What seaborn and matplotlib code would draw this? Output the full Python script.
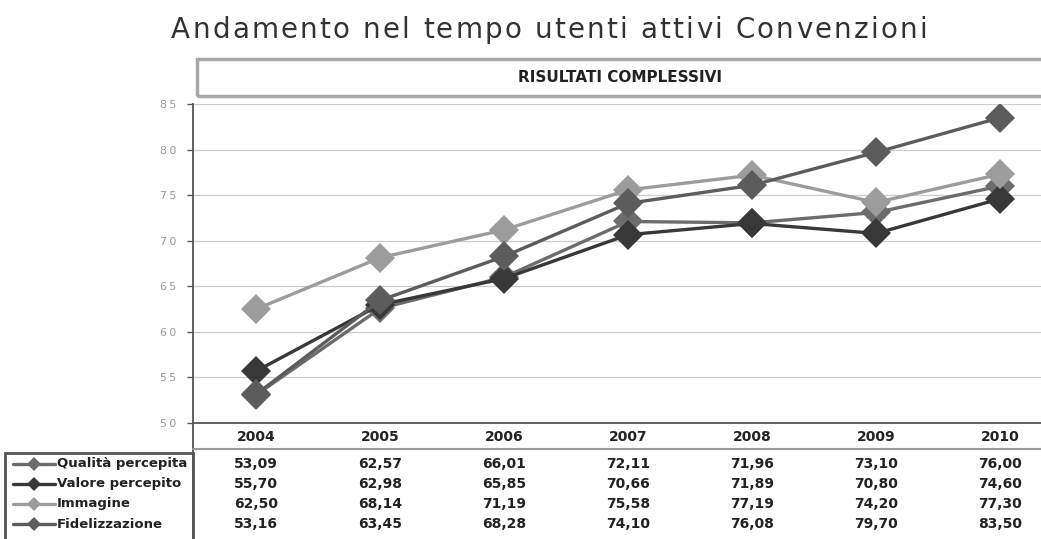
import matplotlib.pyplot as plt
import matplotlib.patches as mpatches
import matplotlib.lines as mlines
import matplotlib.transforms as mtransforms
from matplotlib.font_manager import FontProperties
import pandas as pd
import seaborn as sns

years = [2004, 2005, 2006, 2007, 2008, 2009, 2010]
series_names = ["Qualità percepita", "Valore percepito", "Immagine", "Fidelizzazione"]
qualita = [53.09, 62.57, 66.01, 72.11, 71.96, 73.10, 76.00]
valore = [55.70, 62.98, 65.85, 70.66, 71.89, 70.80, 74.60]
immagine = [62.50, 68.14, 71.19, 75.58, 77.19, 74.20, 77.30]
fidelizzazione = [53.16, 63.45, 68.28, 74.10, 76.08, 79.70, 83.50]
y_ticks = [50, 55, 60, 65, 70, 75, 80, 85]

colors = ["#6c6c6c", "#383838", "#9c9c9c", "#5c5c5c"]

df = pd.DataFrame({
    "anno": years * 4,
    "serie": [s for s in series_names for _ in years],
    "valore": qualita + valore + immagine + fidelizzazione,
})

sns.set_style("white")
plt.rcParams['font.family'] = ['DejaVu Sans']

fig = plt.figure(figsize=(10.41, 5.39), dpi=100, facecolor="w")
W, H = 1041, 539
renderer = fig.canvas.get_renderer()


def spaced_text(xc, y, s, gap, **kw):
    # text with extra letter spacing, centred on xc (pixels)
    prop = FontProperties(family="DejaVu Sans", size=kw.pop("fontsize"),
                          weight=kw.pop("fontweight", "normal"))
    widths = [renderer.get_text_width_height_descent(c, prop, ismath=False)[0] for c in s]
    total = sum(widths) + gap * (len(s) - 1)
    x = xc - total / 2
    for c, w in zip(s, widths):
        fig.text(x / W, 1 - y / H, c, fontproperties=prop, ha="left", va="baseline", **kw)
        x += w + gap


ax = fig.add_axes([193 / W, 1 - 423 / H, 1 - 193 / W, (423 - 104) / H])

sns.lineplot(data=df, x="anno", y="valore", hue="serie", style="serie",
             palette=dict(zip(series_names, colors)),
             markers={s: "D" for s in series_names}, dashes=False,
             markersize=15, linewidth=2.4, markeredgewidth=0,
             legend=False, ax=ax)

ax.set_xlim(2003.49, 2010.33)
ax.set_ylim(50, 85)
ax.set_yticks(y_ticks)
ax.set_yticklabels(["\u2009".join(str(t)) for t in y_ticks], color="#9a9a9a", fontsize=8)
ax.set_xticks([])
ax.set_xlabel("")
ax.set_ylabel("")
ax.tick_params(axis="y", length=4, width=1, color="#555555", pad=8, left=True)
ax.grid(True, axis="y", color="#cccccc", linewidth=0.9)
ax.set_axisbelow(True)
for side in ["top", "right"]:
    ax.spines[side].set_visible(False)
ax.spines["left"].set_color("#555555")
ax.spines["left"].set_linewidth(1.3)
ax.spines["bottom"].set_color("#555555")
ax.spines["bottom"].set_linewidth(1.3)

# title and subtitle box
spaced_text(549, 38, "Andamento nel tempo utenti attivi Convenzioni", 2.2,
            fontsize=20, color="#333333")
fig.patches.append(mpatches.Rectangle((197 / W, 1 - 96 / H), 1 - 197 / W + 0.01, 37 / H,
                                      transform=fig.transFigure, fill=False,
                                      edgecolor="#a8a8a8", linewidth=2.5))
fig.text(620 / W, 1 - 78 / H, "RISULTATI COMPLESSIVI", ha="center", va="center",
         fontsize=11, fontweight="bold", color="#222222")

# data table below the chart
trans = mtransforms.blended_transform_factory(ax.transData, fig.transFigure)
for yr in years:
    ax.text(yr, 1 - 437 / H, str(yr), transform=trans, ha="center", va="center",
            fontsize=10, fontweight="bold", color="#222222")
rows = [qualita, valore, immagine, fidelizzazione]
row_y = [464, 484, 504, 524]
for name, vals, col, ry in zip(series_names, rows, colors, row_y):
    for yr, v in zip(years, vals):
        ax.text(yr, 1 - ry / H, f"{v:.2f}".replace(".", ","), transform=trans,
                ha="center", va="center", fontsize=10, fontweight="bold", color="#222222")
    fig.text(57 / W, 1 - ry / H, name, ha="left", va="center",
             fontsize=9.5, fontweight="bold", color="#222222")
    fig.lines.append(mlines.Line2D([13 / W, 34 / W, 55 / W], [1 - ry / H] * 3,
                                   transform=fig.transFigure, color=col, linewidth=2.4,
                                   marker="D", markersize=7, markevery=[1],
                                   markeredgewidth=0))

# table lines
fig.lines.append(mlines.Line2D([193 / W, 193 / W], [1 - 423 / H, 0], transform=fig.transFigure,
                               color="#555555", linewidth=1.3))
fig.lines.append(mlines.Line2D([193 / W, 1], [1 - 449 / H, 1 - 449 / H], transform=fig.transFigure,
                               color="#999999", linewidth=1.5))
fig.patches.append(mpatches.Rectangle((5 / W, -0.01), 188 / W, 0.01 + (539 - 453) / H,
                                      transform=fig.transFigure, fill=False,
                                      edgecolor="#555555", linewidth=2))

fig.savefig("out.png", dpi=100)
